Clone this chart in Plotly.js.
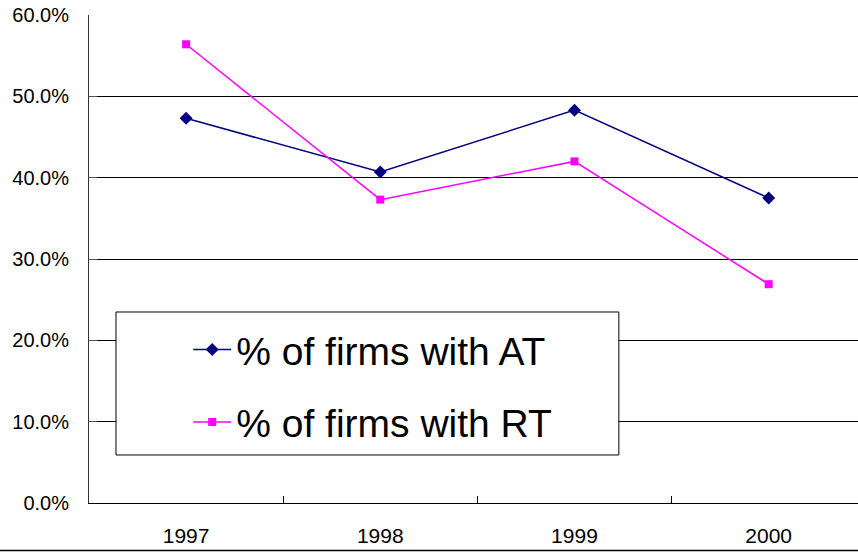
<!DOCTYPE html>
<html>
<head>
<meta charset="utf-8">
<script src="https://cdn.plot.ly/plotly-3.0.1.min.js"></script>
<style>
html, body { margin: 0; padding: 0; background: #fff; overflow: hidden; }
#chart { width: 858px; height: 552px; }
</style>
</head>
<body>
<div id="chart"></div>
<script>
const years = ['1997', '1998', '1999', '2000'];
const atShare = [0.473, 0.407, 0.483, 0.375];
const rtShare = [0.564, 0.373, 0.420, 0.269];
const seriesNames = ['% of firms with AT', '% of firms with RT'];
const yTickVals = [0, 0.1, 0.2, 0.3, 0.4, 0.5, 0.6];

const font = 'Liberation Sans, Arial, sans-serif';

const traces = [
  {
    x: years, y: atShare, name: seriesNames[0], type: 'scatter', mode: 'lines+markers',
    line: { color: '#000080', width: 1.5 },
    marker: { symbol: 'diamond', size: 10, color: '#000080' },
    legendgroup: 'a'
  },
  {
    x: years, y: rtShare, name: seriesNames[1], type: 'scatter', mode: 'lines+markers',
    line: { color: '#FF00FF', width: 1.5 },
    marker: { symbol: 'square', size: 8, color: '#FF00FF' },
    legendgroup: 'b'
  }
];

const layout = {
  width: 858, height: 552,
  margin: { l: 89, r: 0, t: 15, b: 49, pad: 0 },
  paper_bgcolor: '#fff', plot_bgcolor: '#fff',
  font: { family: font, color: '#000' },
  showlegend: true,
  legend: {
    x: 0.129, y: 0.38, xanchor: 'left', yanchor: 'top',
    bgcolor: 'rgba(0,0,0,0)', borderwidth: 0,
    font: { size: 39, family: font, color: '#000' },
    itemwidth: 38,
    traceorder: 'grouped', tracegroupgap: 19
  },
  xaxis: {
    type: 'category', range: [-0.5, 3.46],
    showgrid: false, zeroline: false,
    showline: true, linecolor: '#000', linewidth: 1,
    ticks: 'inside', tickson: 'boundaries', ticklen: 7, tickcolor: '#000', tickwidth: 1,
    tickfont: { size: 21, family: font, color: '#000' },
    ticklabelstandoff: 14
  },
  yaxis: {
    range: [0, 0.6], tickvals: yTickVals, tickformat: '.1%',
    showgrid: true, gridcolor: '#000', gridwidth: 1,
    zeroline: false,
    showline: true, linecolor: '#333', linewidth: 1,
    ticks: 'inside', ticklen: 8, tickcolor: '#555', tickwidth: 1,
    tickfont: { size: 20, family: font, color: '#000' },
    ticklabelstandoff: 15
  },
  shapes: [
    {
      type: 'rect', xref: 'paper', yref: 'paper',
      x0: 0.0351, x1: 0.689, y0: 0.0984, y1: 0.3914,
      line: { color: '#000', width: 1 }, fillcolor: '#fff', layer: 'above'
    },
    {
      type: 'line', xref: 'paper', yref: 'paper',
      x0: -0.2, x1: 1.1, y0: -0.0973, y1: -0.0973,
      line: { color: '#000', width: 1.5 }
    }
  ]
};

Plotly.newPlot('chart', traces, layout, { displayModeBar: false, staticPlot: true });
</script>
</body>
</html>
